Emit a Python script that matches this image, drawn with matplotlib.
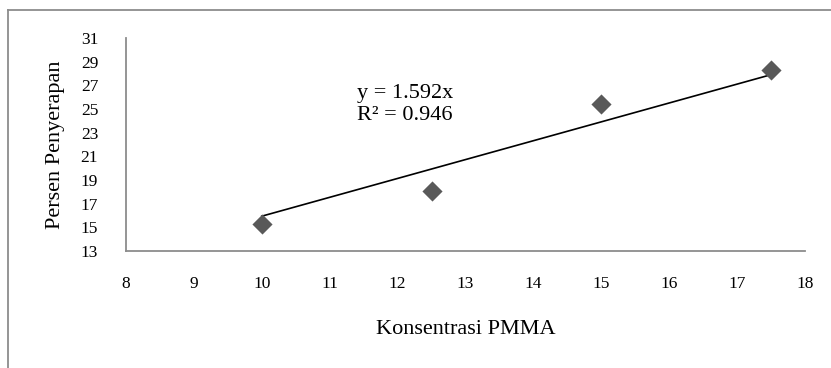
import numpy as np
import matplotlib
matplotlib.use("Agg")
import matplotlib.pyplot as plt
from matplotlib.lines import Line2D

plt.rcParams['font.family'] = ['Liberation Serif', 'DejaVu Serif']

konsentrasi = [10, 12.5, 15, 17.5]
persen = [15.3, 18.1, 25.4, 28.3]
x_ticks = [8, 9, 10, 11, 12, 13, 14, 15, 16, 17, 18]
y_ticks = [13, 15, 17, 19, 21, 23, 25, 27, 29, 31]
eq_text = "y = 1.592x"
r2_text = "R² = 0.946"

W, H = 831, 368
fig = plt.figure(figsize=(W / 100, H / 100), dpi=100)
ax = fig.add_axes([126 / W, 1 - 251 / H, (805 - 126) / W, (251 - 38) / H])

# outer chart border (left and top visible)
fig.add_artist(Line2D([8 / W, 8 / W], [0, 1 - 10 / H], transform=fig.transFigure,
                      color='#8c8c8c', lw=1.3))
fig.add_artist(Line2D([8 / W, 1], [1 - 10 / H, 1 - 10 / H], transform=fig.transFigure,
                      color='#8c8c8c', lw=1.3))

xs = np.array(konsentrasi, dtype=float)
ys = np.array(persen, dtype=float)
slope = np.sum(xs * ys) / np.sum(xs * xs)
xl = np.array([xs.min(), xs.max()])
ax.plot(xl, slope * xl, color='black', lw=1.2, zorder=2)

diamond = [(-1, 0), (0, 1), (1, 0), (0, -1), (-1, 0)]
ax.plot(konsentrasi, persen, linestyle='none', marker=diamond, markersize=14.5,
        color='#595959', markeredgewidth=0, zorder=3)

ax.set_xlim(8, 18)
ax.set_ylim(13, 31)
ax.set_xticks(x_ticks)
ax.set_yticks(y_ticks)
ax.tick_params(axis='both', length=0, labelsize=12.5)
ax.tick_params(axis='x', pad=18)
ax.tick_params(axis='y', pad=20)

for s in ['top', 'right']:
    ax.spines[s].set_visible(False)
for s in ['left', 'bottom']:
    ax.spines[s].set_color('#8c8c8c')
    ax.spines[s].set_linewidth(1.3)

ax.set_xlabel("Konsentrasi PMMA", fontsize=16, labelpad=20)
ax.set_ylabel("Persen Penyerapan", fontsize=16, labelpad=11)

ax.text(0.340, 0.718, eq_text, transform=ax.transAxes, fontsize=16,
        ha='left', va='baseline')
ax.text(0.340, 0.615, r2_text, transform=ax.transAxes, fontsize=16,
        ha='left', va='baseline')

fig.savefig("out.png", dpi=100)
